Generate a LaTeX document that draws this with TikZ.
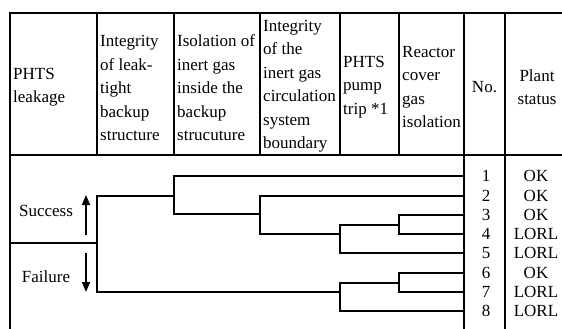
\documentclass[tikz,border=0pt]{standalone}
\usepackage{fontspec}
\setmainfont{Liberation Serif}
\usetikzlibrary{arrows.meta,positioning}

\begin{document}
\begin{tikzpicture}[
    x=1pt, y=-1pt,
    font=\fontsize{17}{23.5}\selectfont,
    grid/.style={line width=1.4pt},
    branch/.style={line width=1.7pt},
    head/.style={inner sep=0pt, anchor=west, align=left},
    headc/.style={inner sep=0pt, align=center},
    arr/.style={-{Triangle[length=10pt, width=8pt]}, line width=1.7pt}
]
\useasboundingbox (0,0) rectangle (562,329);

% table frame
\draw[grid] (10,329) -- (10,13) -- (562,13);
\draw[grid] (10,155) -- (562,155);
\foreach \x in {97,174,260,340,399}
    \draw[grid] (\x,13) -- (\x,155);
\foreach \x in {464,505}
    \draw[grid] (\x,13) -- (\x,329);
\draw[grid] (10,243) -- (97,243);

% headings
\node[head] (leak) at (13,87) {PHTS\\leakage};
\node[head] (tight) at (100,88) {Integrity\\of leak-\\tight\\backup\\structure};
\node[head] (isol) at (177,88) {Isolation of\\inert gas\\inside the\\backup\\strucuture};
\node[head] (circ) at (263,86) {Integrity\\of the\\inert gas\\circulation\\system\\boundary};
\node[head] (pump) at (343,87) {PHTS\\pump\\trip *1};
\node[head] (cover) at (402,87) {Reactor\\cover\\gas\\isolation};
\node[headc] (no) at (484.5,87) {No.};
\node[headc] (status) at (537,87) {Plant\\status};

% success / failure
\node (succ) at (46,211) {Success};
\node (fail) at (46,277) {Failure};
\coordinate (su0) at (86,235);
\coordinate (su1) at (86,195);
\coordinate (fa0) at (86,253);
\coordinate (fa1) at (86,292);
\draw[arr] (su0) -- (su1);
\draw[arr] (fa0) -- (fa1);

% event tree
\draw[branch] (174,196) -| (97,292) -- (340,292);
\draw[branch] (464,176) -| (174,214) -- (260,214);
\draw[branch] (464,196) -| (260,234) -- (340,234);
\draw[branch] (399,225) -| (340,253) -- (464,253);
\draw[branch] (464,215) -| (399,234) -- (464,234);
\draw[branch] (399,283) -| (340,311) -- (464,311);
\draw[branch] (464,273) -| (399,292) -- (464,292);

% sequences
\foreach \n/\y/\st in {1/176/OK, 2/196/OK, 3/215/OK, 4/234/LORL,
                       5/253/LORL, 6/273/OK, 7/292/LORL, 8/311/LORL} {
    \node (n\n) at (486,\y) {\n};
    \node (s\n) at (536,\y) {\st};
}
\end{tikzpicture}
\end{document}
